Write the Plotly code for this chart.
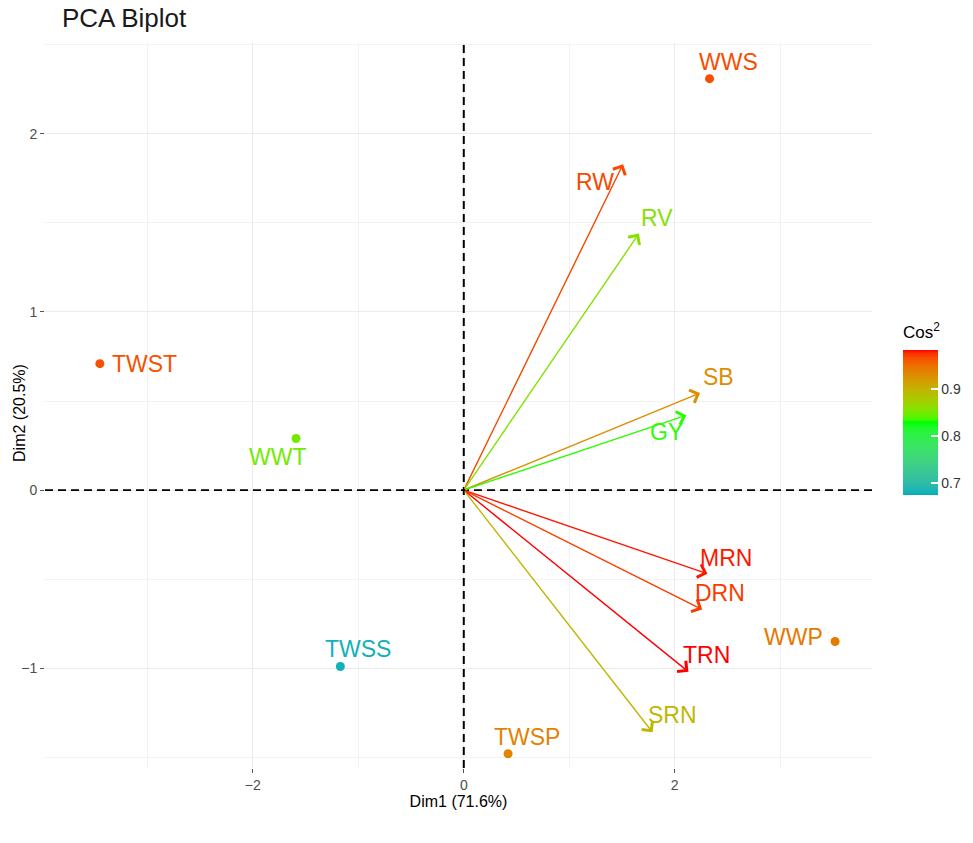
import plotly.graph_objects as go

# ---------------- data ----------------
ind_names = ["WWS", "TWST", "WWT", "TWSS", "TWSP", "WWP"]
ind_dim1 = [2.33, -3.45, -1.59, -1.17, 0.42, 3.52]
ind_dim2 = [2.31, 0.71, 0.29, -0.99, -1.48, -0.85]
ind_cos2 = [0.968, 0.966, 0.850, 0.680, 0.938, 0.945]

var_names = ["RW", "RV", "SB", "GY", "MRN", "DRN", "TRN", "SRN"]
var_dim1 = [1.51, 1.66, 2.24, 2.11, 2.31, 2.26, 2.13, 1.79]
var_dim2 = [1.83, 1.44, 0.545, 0.42, -0.47, -0.67, -1.02, -1.36]
var_cos2 = [0.970, 0.858, 0.930, 0.833, 0.983, 0.975, 0.985, 0.897]

x_title = "Dim1 (71.6%)"
y_title = "Dim2 (20.5%)"
cos2_ticks = [0.7, 0.8, 0.9]
cmin, cmax = 0.675, 0.985

# ---------------- style ----------------
grad_cols = ["#00AFBB", "#00FF00", "#FF0000"]
FONT = "Liberation Sans, Arial, sans-serif"
# label offsets in pixels (x right, y up) and anchors
ind_lab_dx = [19, 10, -19, 18, 19, -10]
ind_lab_dy = [17, 0, -19, 17, 17, 5]
ind_lab_anchor = ["center", "left", "center", "center", "center", "right"]
var_lab_dx = [-28, 18, 18, -20, 19, 18, 18, 20]
var_lab_dy = [-18, 16, 16, -17, 16, 16, 17, 17]


# ---------- Lab colour interpolation (like ggplot's gradientn) ----------
def _hex2rgb(h):
    h = h.lstrip("#")
    return [int(h[i:i + 2], 16) / 255 for i in (0, 2, 4)]


def _lin(c):
    return c / 12.92 if c <= 0.04045 else ((c + 0.055) / 1.055) ** 2.4


def _gam(c):
    c = 12.92 * c if c <= 0.0031308 else 1.055 * c ** (1 / 2.4) - 0.055
    return min(1.0, max(0.0, c))


def _f(t):
    return t ** (1 / 3) if t > 0.008856 else 7.787 * t + 16 / 116


def _finv(t):
    return t ** 3 if t ** 3 > 0.008856 else (t - 16 / 116) / 7.787


def hex2lab(h):
    r, g, b = [_lin(c) for c in _hex2rgb(h)]
    X = (0.4124 * r + 0.3576 * g + 0.1805 * b) / 0.95047
    Y = 0.2126 * r + 0.7152 * g + 0.0722 * b
    Z = (0.0193 * r + 0.1192 * g + 0.9505 * b) / 1.08883
    fx, fy, fz = _f(X), _f(Y), _f(Z)
    return 116 * fy - 16, 500 * (fx - fy), 200 * (fy - fz)


def lab2hex(L, a, b):
    fy = (L + 16) / 116
    fx = fy + a / 500
    fz = fy - b / 200
    X, Y, Z = _finv(fx) * 0.95047, _finv(fy), _finv(fz) * 1.08883
    r = 3.2406 * X - 1.5372 * Y - 0.4986 * Z
    g = -0.9689 * X + 1.8758 * Y + 0.0415 * Z
    bb = 0.0557 * X - 0.2040 * Y + 1.0570 * Z
    return "#%02X%02X%02X" % tuple(round(_gam(c) * 255) for c in (r, g, bb))


LABS = [hex2lab(c) for c in grad_cols]


def ramp(t):
    t = min(1.0, max(0.0, t))
    n = len(LABS) - 1
    i = min(int(t * n), n - 1)
    u = t * n - i
    a, b = LABS[i], LABS[i + 1]
    return lab2hex(*[a[k] + (b[k] - a[k]) * u for k in range(3)])


def val2col(v):
    return ramp((v - cmin) / (cmax - cmin))


colorscale = [[i / 40, ramp(i / 40)] for i in range(41)]

# ---------------- figure ----------------
fig = go.Figure()

fig.add_vline(x=0, line=dict(color="black", width=2, dash="8px,5px"))
fig.add_hline(y=0, line=dict(color="black", width=1.6, dash="8px,5px"))

fig.add_trace(go.Scatter(
    x=ind_dim1, y=ind_dim2, mode="markers", text=ind_names,
    marker=dict(size=9, color=ind_cos2, colorscale=colorscale, cmin=cmin, cmax=cmax,
                showscale=True,
                colorbar=dict(
                    title=dict(text="Cos<sup>2</sup>", side="top",
                               font=dict(size=17, color="black", family=FONT)),
                    x=1.0375, xanchor="left", y=0.496, yanchor="middle",
                    len=172, lenmode="pixels", thickness=35, thicknessmode="pixels",
                    outlinewidth=0, tickvals=cos2_ticks, ticks="inside", ticklen=7,
                    tickcolor="white", tickwidth=1.5, xpad=0, ypad=0,
                    tickfont=dict(size=14, color="#333333", family=FONT))),
    showlegend=False, hoverinfo="text"))

# variable arrows
for nm, x, y, c, dx, dy in zip(var_names, var_dim1, var_dim2, var_cos2, var_lab_dx, var_lab_dy):
    col = val2col(c)
    fig.add_annotation(x=x, y=y, ax=0, ay=0, xref="x", yref="y", axref="x", ayref="y",
                       text="", showarrow=True, arrowhead=4, arrowsize=1.9,
                       arrowwidth=1.4, arrowcolor=col, standoff=0)
    fig.add_annotation(x=x, y=y, xref="x", yref="y", text=nm, showarrow=False,
                       xshift=dx, yshift=dy,
                       font=dict(size=23, color=col, family=FONT))

# individual labels
for nm, x, y, c, dx, dy, anc in zip(ind_names, ind_dim1, ind_dim2, ind_cos2,
                                    ind_lab_dx, ind_lab_dy, ind_lab_anchor):
    fig.add_annotation(x=x, y=y, xref="x", yref="y", text=nm, showarrow=False,
                       xshift=dx, yshift=dy, xanchor=anc,
                       font=dict(size=23, color=val2col(c), family=FONT))

# y-axis title (placed as rotated text to sit where the reference has it)
fig.add_annotation(text=y_title, xref="paper", yref="paper", x=-0.030, y=0.49,
                   xanchor="center", yanchor="middle", textangle=-90, showarrow=False,
                   font=dict(size=16, color="black", family=FONT))

axis_common = dict(showgrid=True, gridcolor="#EBEBEB", gridwidth=1.3, zeroline=False,
                   showline=False, ticks="outside", ticklen=4, tickcolor="#555555",
                   tickwidth=1, tickfont=dict(size=14, color="#4D4D4D", family=FONT))

fig.update_xaxes(range=[-3.97, 3.87], tick0=0, dtick=2,
                 minor=dict(dtick=1, tick0=0, showgrid=True, gridcolor="#F2F2F2", gridwidth=1),
                 title=dict(text=x_title, font=dict(size=16, color="black", family=FONT), standoff=4),
                 **axis_common)
fig.update_yaxes(range=[-1.56, 2.51], tick0=0, dtick=1,
                 minor=dict(dtick=0.5, tick0=0, showgrid=True, gridcolor="#F2F2F2", gridwidth=1),
                 **axis_common)

fig.update_layout(
    width=973, height=843,
    margin=dict(l=45, r=101, t=43, b=75, autoexpand=False),
    plot_bgcolor="white", paper_bgcolor="white",
    font=dict(family=FONT),
    title=dict(text="PCA Biplot", x=62 / 973, xanchor="left", y=1 - 18 / 843, yanchor="middle",
               font=dict(size=26, color="#1A1A1A", family=FONT)),
    showlegend=False,
)

fig.write_html("out.html", config={"displayModeBar": False},
               post_script="document.body.style.margin='0px';")
